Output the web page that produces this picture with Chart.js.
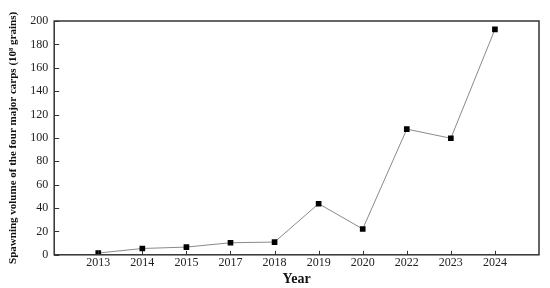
<!DOCTYPE html>
<html>
<head>
<meta charset="utf-8">
<script src="https://cdn.jsdelivr.net/npm/chart.js@4/dist/chart.umd.min.js"></script>
<style>
  html, body { margin: 0; padding: 0; background: #fff; }
  #wrap { width: 550px; height: 288px; }
</style>
</head>
<body>
<div id="wrap"><canvas id="grafico"></canvas></div>
<script>
const anos = ['2013', '2014', '2015', '2017', '2018', '2019', '2020', '2022', '2023', '2024'];
const desova = [1.5, 5.4, 6.6, 10.3, 10.9, 43.7, 22.1, 107.5, 99.7, 192.8];
const ticksY = [0, 20, 40, 60, 80, 100, 120, 140, 160, 180, 200];

const fonte = '"Liberation Serif", "DejaVu Serif", serif';

// moldura e marcas para dentro
const moldura = {
    id: 'moldura',
    afterDraw(chart) {
        const { ctx, chartArea: a, scales } = chart;
        ctx.save();
        ctx.strokeStyle = '#333';
        ctx.lineWidth = 1.5;
        ctx.strokeRect(a.left, a.top, a.right - a.left, a.bottom - a.top);
        ctx.lineWidth = 1;
        ctx.beginPath();
        scales.y.ticks.forEach(t => {
            const y = Math.round(scales.y.getPixelForValue(t.value)) + 0.5;
            ctx.moveTo(a.left, y);
            ctx.lineTo(a.left + 5, y);
        });
        anos.forEach((_, i) => {
            const x = Math.round(scales.x.getPixelForValue(i + 1)) + 0.5;
            ctx.moveTo(x, a.bottom);
            ctx.lineTo(x, a.bottom - 4);
        });
        ctx.stroke();
        ctx.restore();
    }
};

const ctx = document.getElementById('grafico').getContext('2d');

new Chart(ctx, {
    type: 'line',
    data: {
        datasets: [{
            data: desova.map((v, i) => ({ x: i + 1, y: v })),
            borderColor: '#8a8a8a',
            borderWidth: 1,
            pointStyle: 'rect',
            pointRadius: 4,
            pointBackgroundColor: '#000',
            pointBorderColor: '#000',
            pointBorderWidth: 0,
            tension: 0
        }]
    },
    options: {
        responsive: true,
        maintainAspectRatio: false,
        animation: false,
        layout: { padding: { top: 21, right: 11, left: 7, bottom: 0 } },
        plugins: {
            legend: { display: false },
            tooltip: { enabled: false }
        },
        scales: {
            x: {
                type: 'linear',
                min: 0,
                max: anos.length + 1,
                grid: { display: false, drawTicks: false },
                border: { display: false },
                afterBuildTicks: axis => {
                    axis.ticks = anos.map((_, i) => ({ value: i + 1 }));
                },
                ticks: {
                    autoSkip: false,
                    maxRotation: 0,
                    padding: 1,
                    color: '#222',
                    font: { family: fonte, size: 12 },
                    callback: v => anos[v - 1] || ''
                },
                title: {
                    display: true,
                    text: 'Year',
                    color: '#111',
                    padding: { top: 0, bottom: 0 },
                    font: { family: fonte, size: 14, weight: 'bold' }
                }
            },
            y: {
                min: 0,
                max: 200,
                grid: { display: false, drawTicks: false },
                border: { display: false },
                afterBuildTicks: axis => {
                    axis.ticks = ticksY.map(v => ({ value: v }));
                },
                ticks: {
                    padding: 6,
                    color: '#222',
                    font: { family: fonte, size: 12 }
                },
                title: {
                    display: true,
                    text: 'Spawning volume of the four major carps (10⁸ grains)',
                    color: '#111',
                    padding: { top: 0, bottom: 4 },
                    font: { family: fonte, size: 11, weight: 'bold' }
                }
            }
        }
    },
    plugins: [moldura]
});
</script>
</body>
</html>
